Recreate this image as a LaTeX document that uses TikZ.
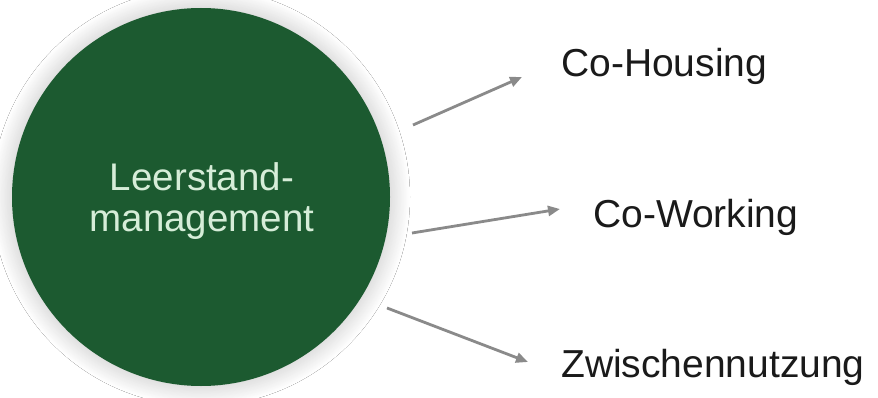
\documentclass[tikz,border=0pt]{standalone}
\usepackage{fontspec}
\setmainfont{Liberation Sans}
\usepackage{tikz}
\usetikzlibrary{arrows.meta}
\usetikzlibrary{shadows.blur}
\usetikzlibrary{positioning}

\definecolor{leafgreen}{HTML}{1C5A30}
\definecolor{mintext}{HTML}{D6EDD8}
\definecolor{arrowgray}{HTML}{8A8A8A}
\definecolor{labelink}{HTML}{1A1A1A}

\begin{document}
\begin{tikzpicture}[x=1pt, y=-1pt,
  hub/.style={circle, fill=leafgreen, minimum size=378pt, inner sep=0pt,
    blur shadow={shadow xshift=0pt, shadow yshift=0pt, shadow blur radius=20pt, shadow blur steps=25, shadow opacity=25}},
  hubtext/.style={text=mintext, align=center, font=\fontsize{38.5}{41}\selectfont},
  target/.style={anchor=base west, inner sep=0pt, text=labelink, font=\fontsize{39}{41}\selectfont},
  link/.style={draw=arrowgray, line width=2.8pt, -{Triangle[length=12pt, width=10pt]}}]
\useasboundingbox[fill=white] (0,0) rectangle (878,398);
\node[hub] (Leer) at (201,197) {};
\node[hubtext] (LeerTxt) at (202,201) {Leerstand-\\management};
\node[target] (Hous) at (561,77) {Co-Housing};
\node[target] (Work) at (593,227) {Co-Working};
\node[target] (Zwi) at (561,377) {Zwischennutzung};
\coordinate (H0) at (413,125);
\coordinate (H1) at (522,77);
\coordinate (W0) at (412,233);
\coordinate (W1) at (560,209);
\coordinate (Z0) at (387,308);
\coordinate (Z1) at (528,362);
\draw[link] (H0) -- (H1);
\draw[link] (W0) -- (W1);
\draw[link] (Z0) -- (Z1);
\end{tikzpicture}
\end{document}
